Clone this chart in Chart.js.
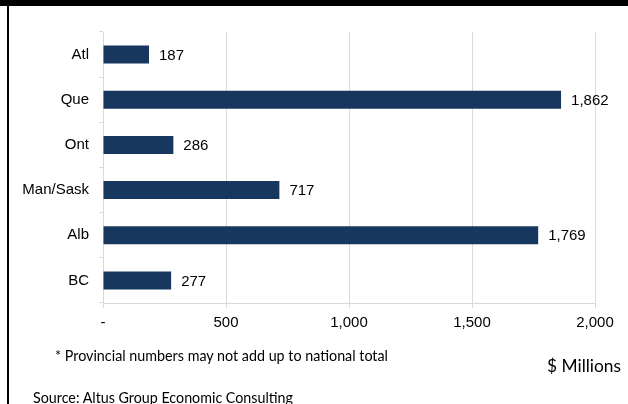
<!DOCTYPE html>
<html>
<head>
<meta charset="utf-8">
<script src="https://cdn.jsdelivr.net/npm/chart.js@4.4.1/dist/chart.umd.min.js"></script>
<style>
  html, body { margin: 0; padding: 0; background: #fff; }
  #wrap { position: relative; width: 628px; height: 404px; overflow: hidden; }
  #chart { position: absolute; left: 0; top: 0; }
  .topband { position: absolute; left: 0; top: 0; width: 628px; height: 6px; background: #000; }
  .leftline { position: absolute; left: 7px; top: 0; width: 2px; height: 404px; background: #000; }
  .note { position: absolute; font-family: Lato, "Open Sans", sans-serif; color: #000; white-space: nowrap; transform-origin: 0 0; }
</style>
</head>
<body>
<div id="wrap">
  <canvas id="chart" width="628" height="404"></canvas>
  <div class="topband"></div>
  <div class="leftline"></div>
  <div class="note" id="foot" data-w="333" style="left:55px; top:346px; font-size:15px;">* Provincial numbers may not add up to national total</div>
  <div class="note" id="units" data-w="74" style="left:547px; top:354px; font-size:18px;">$ Millions</div>
  <div class="note" id="source" data-w="260" style="left:33px; top:388px; font-size:15px;">Source: Altus Group Economic Consulting</div>
</div>
<script>
const regions = ["Atl", "Que", "Ont", "Man/Sask", "Alb", "BC"];
const investment = [187, 1862, 286, 717, 1769, 277];
const xTicks = [0, 500, 1000, 1500, 2000];

const BAR_COLOR = "#17375E";
const GRID_COLOR = "#d9d9d9";
const FONT = '"Liberation Sans", Arial, sans-serif';

function fmt(v) {
  return v === 0 ? "-" : v.toLocaleString("en-US");
}

const valueLabels = {
  id: "valueLabels",
  afterDatasetsDraw(chart) {
    const ctx = chart.ctx;
    const meta = chart.getDatasetMeta(0);
    ctx.save();
    ctx.font = "15px " + FONT;
    ctx.fillStyle = "#000";
    ctx.textBaseline = "middle";
    ctx.textAlign = "left";
    meta.data.forEach((bar, i) => {
      ctx.fillText(fmt(investment[i]), bar.x + 10, bar.y + 1);
    });
    ctx.restore();
  }
};

new Chart(document.getElementById("chart"), {
  type: "bar",
  data: {
    labels: regions,
    datasets: [
      {
        data: investment,
        backgroundColor: BAR_COLOR,
        borderWidth: 0,
        categoryPercentage: 1,
        barPercentage: 0.4
      }
    ]
  },
  options: {
    indexAxis: "y",
    responsive: false,
    animation: false,
    layout: { padding: { top: 32, right: 33, bottom: 61, left: 0 } },
    plugins: { legend: { display: false }, tooltip: { enabled: false } },
    scales: {
      x: {
        min: 0,
        max: 2000,
        afterBuildTicks: (scale) => {
          scale.ticks = xTicks.map((v) => ({ value: v }));
        },
        afterFit: (scale) => { scale.height = 40; },
        grid: { color: GRID_COLOR, tickLength: 5, lineWidth: 1 },
        border: { color: GRID_COLOR },
        ticks: {
          color: "#000",
          font: { family: FONT, size: 15 },
          padding: 6,
          callback: (v) => fmt(v)
        }
      },
      y: {
        afterFit: (scale) => { scale.width = 103; },
        grid: { drawOnChartArea: false, color: GRID_COLOR, tickLength: 4, offset: true },
        border: { color: GRID_COLOR },
        ticks: {
          color: "#000",
          font: { family: FONT, size: 15 },
          padding: 10
        }
      }
    }
  },
  plugins: [valueLabels]
});

document.querySelectorAll(".note").forEach((el) => {
  const target = Number(el.dataset.w);
  const w = el.getBoundingClientRect().width;
  if (w > 0) el.style.transform = `scaleX(${target / w})`;
});
</script>
</body>
</html>
